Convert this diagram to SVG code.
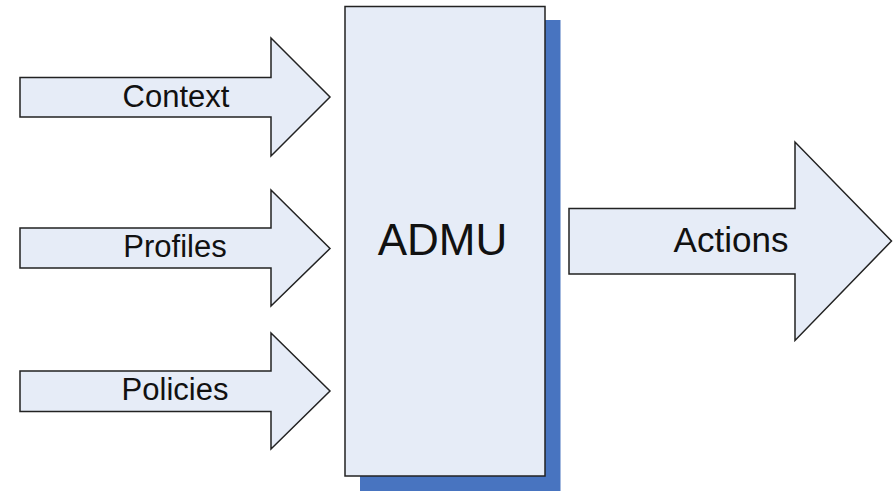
<svg xmlns="http://www.w3.org/2000/svg" width="893" height="492" viewBox="0 0 893 492">
  <style>
    .shape { fill: #e6ecf7; stroke: #222; stroke-width: 1.5; stroke-linejoin: miter; }
    .shadow { fill: #4874c0; }
    .label { font-family: "Liberation Sans", Arial, sans-serif; fill: #111; text-anchor: middle; }
  </style>
  <rect width="893" height="492" fill="#ffffff"/>

  <!-- Input / output arrows -->
  <g id="connectors">
    <g id="context">
      <polygon class="shape" points="20,77.5 271,77.5 271,38 330,97 271,156 271,117 20,117"/>
      <text class="label" x="176" y="106.5" font-size="31">Context</text>
    </g>
    <g id="profiles">
      <polygon class="shape" points="20,228 271,228 271,190 330,248.5 271,306 271,268 20,268"/>
      <text class="label" x="175" y="256.5" font-size="31">Profiles</text>
    </g>
    <g id="policies">
      <polygon class="shape" points="20,371 271,371 271,333 330,391 271,449 271,411.5 20,411.5"/>
      <text class="label" x="175" y="399.5" font-size="31">Policies</text>
    </g>
    <g id="actions">
      <polygon class="shape" points="569,208.5 795,208.5 795,142 891.5,241 795,340.5 795,274 569,274"/>
      <text class="label" x="731" y="251.5" font-size="35">Actions</text>
    </g>
  </g>

  <!-- Decision unit -->
  <g id="admu">
    <rect class="shadow" x="360" y="20" width="200.5" height="471"/>
    <rect class="shape" x="345" y="6.5" width="200" height="469.5"/>
    <text class="label" x="442.5" y="255" font-size="44">ADMU</text>
  </g>
</svg>
